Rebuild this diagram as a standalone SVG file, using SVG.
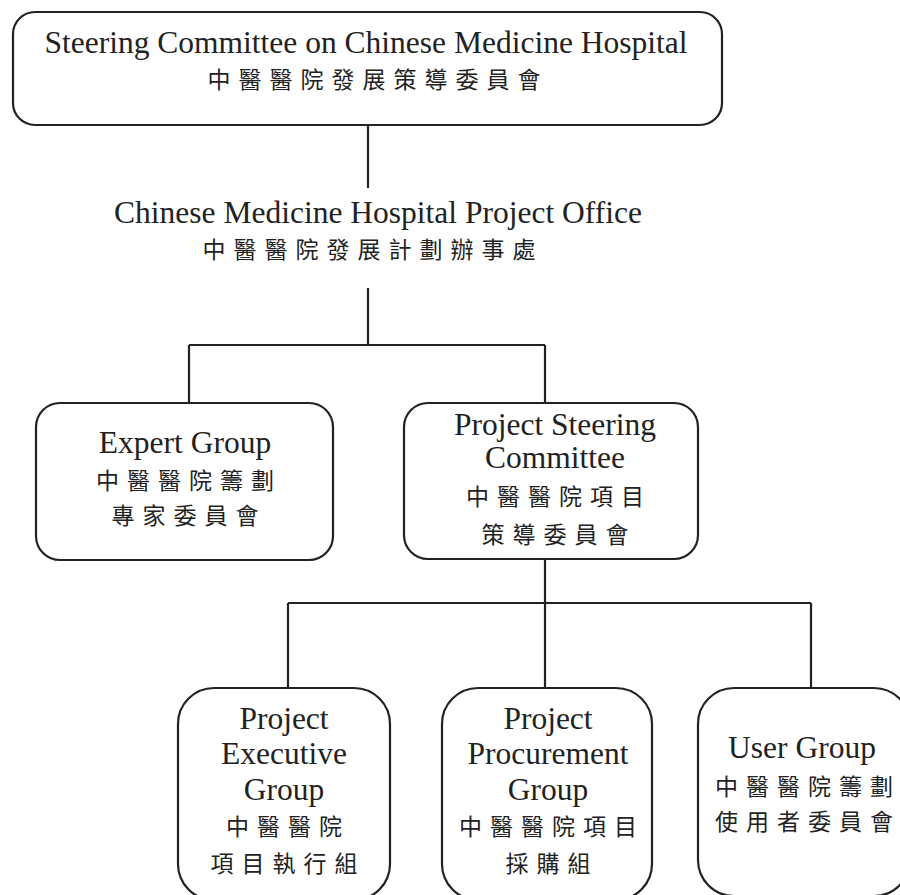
<svg xmlns="http://www.w3.org/2000/svg" width="900" height="895" viewBox="0 0 900 895">
<style>
.box{fill:#fff;stroke:#222;stroke-width:2.2}
.ln{stroke:#222;stroke-width:2.2;fill:none}
.en{font-family:"Liberation Serif","Times New Roman",serif;font-size:31.5px;fill:#222;text-anchor:middle}
.zh{font-family:"Noto Sans CJK TC","Noto Sans CJK SC",sans-serif;font-size:23px;fill:#222;text-anchor:middle;letter-spacing:8px}
</style>
<rect width="900" height="895" fill="#fff"/>
<g id="connectors">
<path class="ln" d="M368 125V188M368 288V345M189 345H545M189 345V403M545 345V403M545 559V603M288 603H811M288 603V688M545 603V688M811 603V688"/>
</g>
<g id="steering-committee">
<rect class="box" x="13" y="12" width="709" height="113" rx="22"/>
<text class="en" x="366" y="53">Steering Committee on Chinese Medicine Hospital</text>
<text class="zh" x="378" y="88">中醫醫院發展策導委員會</text>
</g>
<g id="project-office">
<text class="en" x="378" y="223">Chinese Medicine Hospital Project Office</text>
<text class="zh" x="373" y="258">中醫醫院發展計劃辦事處</text>
</g>
<g id="expert-group">
<rect class="box" x="36" y="403" width="297" height="157" rx="24"/>
<text class="en" x="185" y="453">Expert Group</text>
<text class="zh" x="189" y="489">中醫醫院籌劃</text>
<text class="zh" x="189" y="524">專家委員會</text>
</g>
<g id="project-steering-committee">
<rect class="box" x="404" y="403" width="294" height="156" rx="24"/>
<text class="en" x="555" y="435">Project Steering</text>
<text class="en" x="555" y="468">Committee</text>
<text class="zh" x="559" y="505">中醫醫院項目</text>
<text class="zh" x="559" y="543">策導委員會</text>
</g>
<g id="project-executive-group">
<rect class="box" x="178" y="688" width="212" height="212" rx="36"/>
<text class="en" x="284" y="729">Project</text>
<text class="en" x="284" y="764">Executive</text>
<text class="en" x="284" y="800">Group</text>
<text class="zh" x="288" y="835">中醫醫院</text>
<text class="zh" x="288" y="872">項目執行組</text>
</g>
<g id="project-procurement-group">
<rect class="box" x="442" y="688" width="210" height="212" rx="36"/>
<text class="en" x="548" y="729">Project</text>
<text class="en" x="548" y="764">Procurement</text>
<text class="en" x="548" y="800">Group</text>
<text class="zh" x="552" y="835">中醫醫院項目</text>
<text class="zh" x="552" y="872">採購組</text>
</g>
<g id="user-group">
<rect class="box" x="698" y="688" width="212" height="208" rx="36"/>
<text class="en" x="802" y="758">User Group</text>
<text class="zh" x="808" y="795">中醫醫院籌劃</text>
<text class="zh" x="808" y="830">使用者委員會</text>
</g>
</svg>
